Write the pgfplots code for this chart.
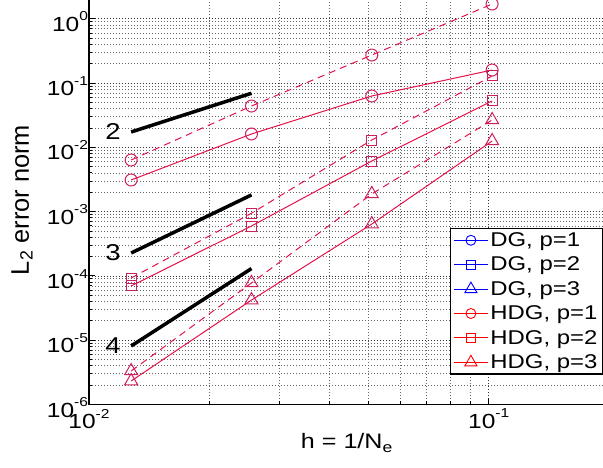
\documentclass[border=0pt]{standalone}
\usepackage{fontspec}
\setmainfont{Liberation Sans}[FakeStretch=1.2]
\newfontfamily\plainsans{Liberation Sans}
\usepackage{pgfplots}
\pgfplotsset{compat=1.18}

\definecolor{errline}{RGB}{228,18,72}
\definecolor{errmark}{RGB}{205,30,95}
\definecolor{dgblue}{RGB}{0,0,255}
\definecolor{hdgred}{RGB}{255,0,0}

% power-of-ten tick label with a small raised exponent
\newcommand{\pten}[1]{10\raisebox{10.5bp}{\fontsize{13}{13}\selectfont#1}}

% convergence data: h versus L2 error
\pgfplotstableread{
h        e1d      e1s      e2d      e2s      e3d      e3s
0.01275  6.34e-3  3.10e-3  9.27e-5  6.97e-5  3.32e-6  2.32e-6
0.0255   0.0438   0.0161   9.42e-4  5.97e-4  7.76e-5  4.21e-5
0.051    0.272    0.0628   0.01297  6.12e-3  1.88e-3  6.41e-4
0.102    1.69     0.159    0.1285   0.0525   0.0266   0.01253
}\errtable

\begin{document}
\begin{tikzpicture}
\useasboundingbox (-89bp,-63.5bp) rectangle (514bp,404.5bp);
\clip (-89bp,-63.5bp) rectangle (514bp,404.5bp);
\begin{axis}[
  at={(0,0)}, anchor=south west,
  scale only axis, width=520bp, height=416.5bp,
  xmode=log, ymode=log,
  xmin=0.01, xmax=0.2, ymin=1e-6, ymax=3,
  xtick={0.01,0.1},
  xticklabels={\pten{-2},\pten{-1}},
  ytick={1e-6,1e-5,1e-4,1e-3,1e-2,1e-1,1},
  yticklabels={\pten{-6},\pten{-5},\pten{-4},\pten{-3},\pten{-2},\pten{-1},\pten{0}},
  grid=both,
  major grid style={black!80, line width=0.7bp, dash pattern=on 0.8bp off 2.2bp},
  minor grid style={black!60, line width=0.7bp, dash pattern=on 0.8bp off 2.2bp},
  axis line style={black, line width=1.3bp},
  tick style={black, line width=0.8bp},
  major tick length=6bp, minor tick length=3.5bp,
  tick label style={font=\fontsize{20.5}{22}\selectfont},
  yticklabel style={yshift=-3bp, xshift=2.5bp},
  xticklabel style={yshift=-1bp},
  xlabel={h = 1/N\textsubscript{e}},
  ylabel={\plainsans L\textsubscript{2} error norm},
  xlabel style={font=\fontsize{21}{24}\selectfont, at={(axis description cs:0.496,-0.1068)}, anchor=base},
  ylabel style={font=\fontsize{25.5}{28}\selectfont, at={(axis description cs:-0.1288,0.491)}, anchor=center},
  legend cell align=left,
  legend style={at={(axis description cs:0.694,0.4238)}, anchor=north west,
    draw=black, line width=1.2bp, inner xsep=3bp, inner ysep=2bp,
    font=\fontsize{20}{22}\selectfont, row sep=5bp,
    nodes={inner sep=2bp}},
  legend image code/.code={%
    \draw[mark repeat=2, mark phase=2, line width=0.9bp]
      plot coordinates {(0bp,0bp) (17bp,0bp) (34bp,0bp)};},
]
% legend entries
\addlegendimage{dgblue, mark=o, mark size=5bp, mark options={solid}}
\addlegendentry{DG, p=1}
\addlegendimage{dgblue, mark=square, mark size=4.3bp, mark options={solid}}
\addlegendentry{DG, p=2}
\addlegendimage{dgblue, mark=triangle, mark size=7bp, mark options={solid}}
\addlegendentry{DG, p=3}
\addlegendimage{hdgred, mark=o, mark size=5bp, mark options={solid}}
\addlegendentry{HDG, p=1}
\addlegendimage{hdgred, mark=square, mark size=4.3bp, mark options={solid}}
\addlegendentry{HDG, p=2}
\addlegendimage{hdgred, mark=triangle, mark size=7bp, mark options={solid}}
\addlegendentry{HDG, p=3}

% error curves
\addplot[forget plot, errline, line width=1bp, dashed, dash pattern=on 7bp off 5bp, mark=o, mark size=6bp, mark options={solid, draw=errmark}] table[x=h, y=e1d] {\errtable};
\addplot[forget plot, errline, line width=1bp, mark=o, mark size=6bp, mark options={solid, draw=errmark}] table[x=h, y=e1s] {\errtable};
\addplot[forget plot, errline, line width=1bp, dashed, dash pattern=on 7bp off 5bp, mark=square, mark size=5bp, mark options={solid, draw=errmark}] table[x=h, y=e2d] {\errtable};
\addplot[forget plot, errline, line width=1bp, mark=square, mark size=5bp, mark options={solid, draw=errmark}] table[x=h, y=e2s] {\errtable};
\addplot[forget plot, errline, line width=1bp, dashed, dash pattern=on 7bp off 5bp, mark=triangle, mark size=7.5bp, mark options={solid, draw=errmark}] table[x=h, y=e3d] {\errtable};
\addplot[forget plot, errline, line width=1bp, mark=triangle, mark size=7.5bp, mark options={solid, draw=errmark}] table[x=h, y=e3s] {\errtable};

% reference slopes
\addplot[forget plot, black, line width=3.5bp] coordinates {(0.01275,0.0173) (0.0255,0.0692)};
\addplot[forget plot, black, line width=3.5bp] coordinates {(0.01275,2.27e-4) (0.0255,1.816e-3)};
\addplot[forget plot, black, line width=3.5bp] coordinates {(0.01275,8.13e-6) (0.0255,1.30e-4)};
\node[font=\fontsize{23}{26}\selectfont] at (axis cs:0.01148,0.0173) {2};
\node[font=\fontsize{23}{26}\selectfont] at (axis cs:0.01148,2.27e-4) {3};
\node[font=\fontsize{23}{26}\selectfont] at (axis cs:0.01148,8.13e-6) {4};
\end{axis}
\end{tikzpicture}
\end{document}
